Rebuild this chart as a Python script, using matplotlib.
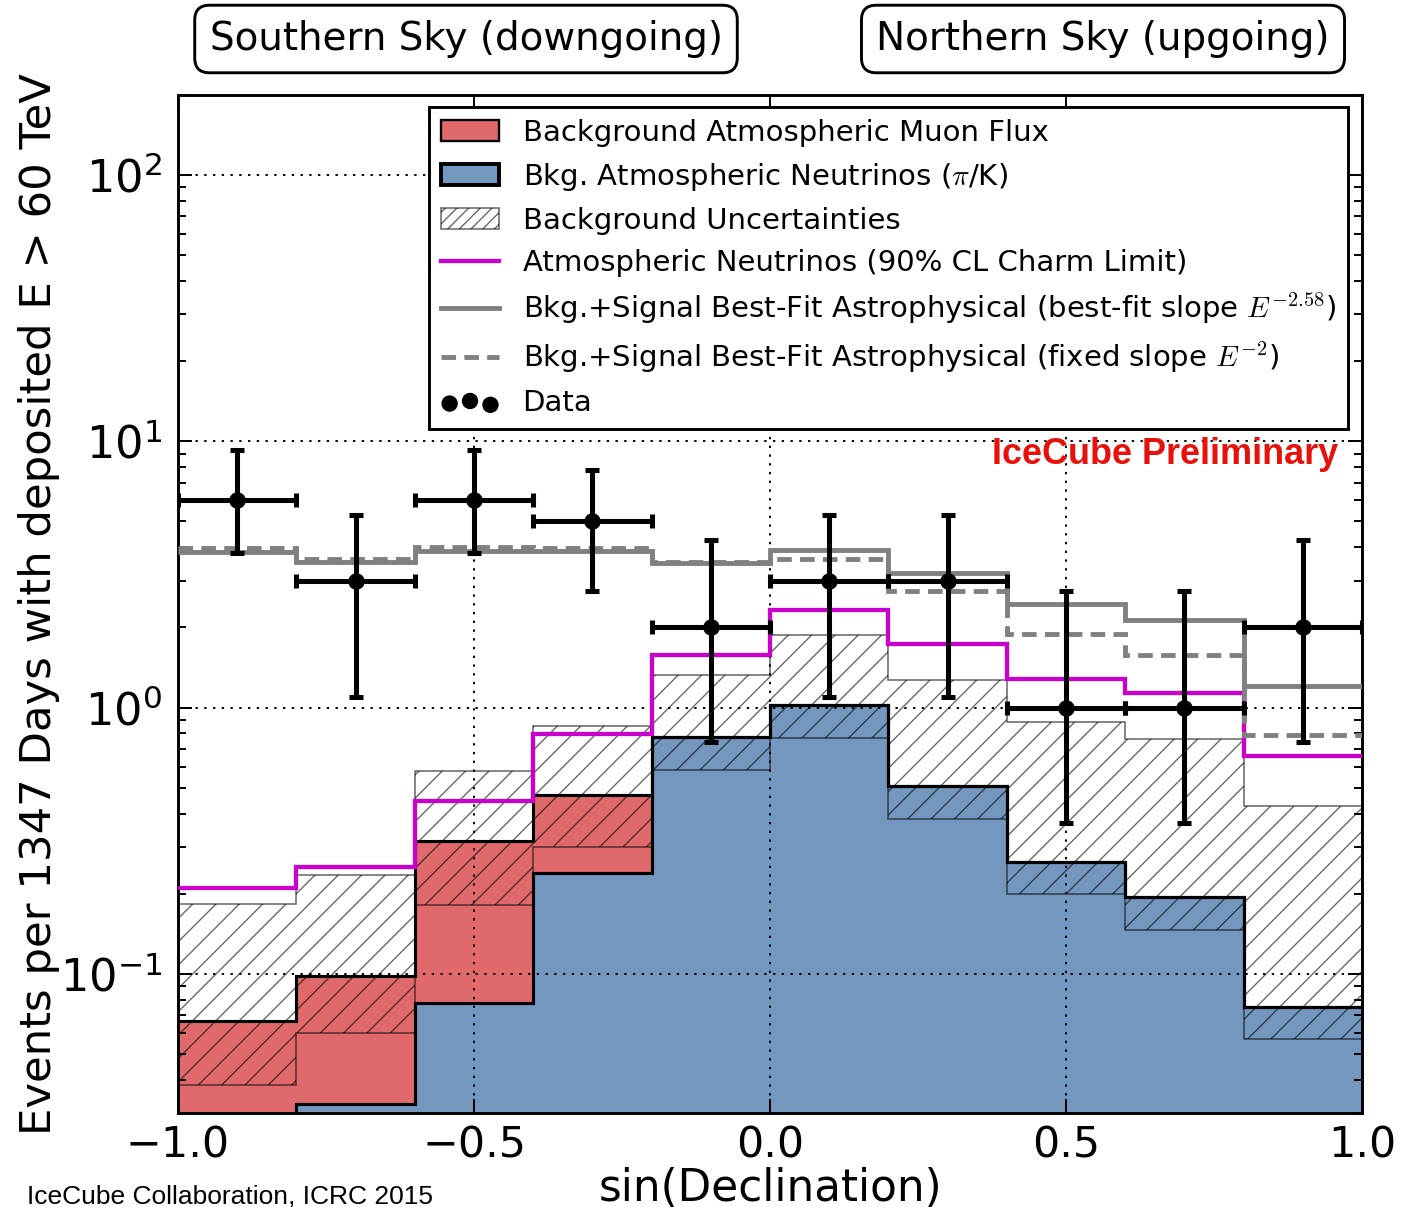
import numpy as np
import matplotlib
matplotlib.use('Agg')
import matplotlib.pyplot as plt
from matplotlib.patches import Patch
from matplotlib.lines import Line2D

# sin(declination) binning
edges = np.linspace(-1.0, 1.0, 11)

# expected events per bin (1347 days, deposited E > 60 TeV)
atm_nu = [0.020, 0.0323, 0.0775, 0.240, 0.774, 1.02, 0.508, 0.264, 0.194, 0.0752]
atm_mu = [0.0464, 0.0661, 0.2375, 0.231, 0.0, 0.0, 0.0, 0.0, 0.0, 0.0]
bkg_lo = [0.0383, 0.060, 0.181, 0.299, 0.581, 0.768, 0.383, 0.200, 0.1465, 0.0568]
bkg_hi = [0.183, 0.236, 0.578, 0.851, 1.33, 1.87, 1.27, 0.886, 0.764, 0.428]
charm_limit = [0.210, 0.251, 0.446, 0.793, 1.57, 2.33, 1.73, 1.28, 1.13, 0.659]
fit_bestslope = [3.84, 3.52, 3.87, 3.87, 3.50, 3.92, 3.21, 2.44, 2.13, 1.21]
fit_e2 = [3.96, 3.62, 4.00, 3.96, 3.52, 3.62, 2.74, 1.89, 1.57, 0.79]

# observed events and Feldman-Cousins 68% intervals
n_obs = [6, 3, 6, 5, 2, 3, 3, 1, 1, 2]
fc_lo = [3.82, 1.10, 3.82, 2.75, 0.74, 1.10, 1.10, 0.37, 0.37, 0.74]
fc_hi = [9.28, 5.30, 9.28, 7.81, 4.25, 5.30, 5.30, 2.75, 2.75, 4.25]

RED = '#e0696b'
BLUE = '#7397bf'
MAGENTA = '#cc00cc'
GRAY = '#808080'

plt.rcParams['mathtext.fontset'] = 'cm'
plt.rcParams['hatch.linewidth'] = 0.7

fig = plt.figure(figsize=(1404 / 140, 1207 / 140), dpi=140)
ax = fig.add_axes([178 / 1404, 1 - 1113 / 1207, (1362 - 178) / 1404, (1113 - 95) / 1207])
ax.set_yscale('log')

total = np.array(atm_nu) + np.array(atm_mu)
centers = 0.5 * (edges[1:] + edges[:-1])

# stacked backgrounds
ax.stairs(atm_nu, edges, baseline=1e-4, fill=True, color=BLUE, zorder=1)
ax.stairs(total, edges, baseline=atm_nu, fill=True, color=RED, zorder=1)
ax.stairs(bkg_hi, edges, baseline=bkg_lo, fill=True, facecolor='none',
          edgecolor=(0, 0, 0, 0.6), hatch='//', lw=0.8, zorder=1.5)
ax.stairs(atm_nu, edges, baseline=None, color='k', lw=1.6, zorder=2)
ax.stairs(total, edges, baseline=None, color='k', lw=1.6, zorder=2)

ax.stairs(charm_limit, edges, baseline=None, color=MAGENTA, lw=2.2, zorder=3)
ax.stairs(fit_bestslope, edges, baseline=None, color=GRAY, lw=2.5, zorder=3)
ax.stairs(fit_e2, edges, baseline=None, color=GRAY, lw=2.5,
          linestyle=(0, (3, 1.7)), zorder=3)

n = np.array(n_obs, dtype=float)
yerr = [n - np.array(fc_lo), np.array(fc_hi) - n]
ax.errorbar(centers, n, xerr=0.1, yerr=yerr, fmt='o', color='k', ms=7.5,
            elinewidth=2.6, capsize=3.8, capthick=2.6, zorder=4)

ax.set_xlim(-1, 1)
ax.set_ylim(0.03, 200)
ax.set_xticks([-1.0, -0.5, 0.0, 0.5, 1.0])
ax.grid(True, which='major', color='k', lw=1.0, linestyle=(0, (1.2, 3.3)))
ax.set_axisbelow(False)
ax.tick_params(which='both', direction='in', top=True, right=True)
ax.tick_params(which='major', length=7, width=1.0, labelsize=22)
ax.tick_params(axis='y', which='major', labelsize=23)
ax.tick_params(which='minor', length=4, width=1.0)
ax.tick_params(axis='x', pad=6)
ax.tick_params(axis='y', pad=8)
for s in ax.spines.values():
    s.set_linewidth(1.5)

ax.set_xlabel('sin(Declination)', fontsize=22.5, labelpad=0)
ax.set_ylabel('Events per 1347 Days with deposited E > 60 TeV', fontsize=22.3,
              labelpad=0)

data_proxy = ax.scatter([], [], s=55, c='k')
handles = [
    Patch(facecolor=RED, edgecolor='k', lw=1.2),
    Patch(facecolor=BLUE, edgecolor='k', lw=2.0),
    Patch(facecolor='white', edgecolor=(0, 0, 0, 0.6), hatch='////', lw=0.8),
    Line2D([], [], color=MAGENTA, lw=2.2),
    Line2D([], [], color=GRAY, lw=2.5),
    Line2D([], [], color=GRAY, lw=2.5, linestyle=(0, (3, 1.7))),
    data_proxy,
]
labels = [
    'Background Atmospheric Muon Flux',
    r'Bkg. Atmospheric Neutrinos ($\pi$/K)',
    'Background Uncertainties',
    'Atmospheric Neutrinos (90% CL Charm Limit)',
    r'Bkg.+Signal Best-Fit Astrophysical (best-fit slope $E^{-2.58}$)',
    r'Bkg.+Signal Best-Fit Astrophysical (fixed slope $E^{-2}$)',
    'Data',
]
leg = ax.legend(handles, labels, loc='upper right', bbox_to_anchor=(0.988, 0.988),
                borderaxespad=0, fontsize=15, fancybox=False, framealpha=1,
                edgecolor='k', labelspacing=0.48, handlelength=2.0,
                handletextpad=0.8, scatterpoints=3)
leg.get_frame().set_linewidth(1.5)
leg.set_zorder(10)

ax.text(0.9797, 0.6473, 'IceCube Preliminary', transform=ax.transAxes,
        ha='right', va='center', color='#e8100a', fontsize=18.5,
        fontweight='bold', family='Liberation Sans', zorder=10)

box = dict(boxstyle='round,pad=0.38', facecolor='white', edgecolor='k', lw=1.5)
fig.text(466 / 1404, 1 - 39 / 1207, 'Southern Sky (downgoing)', ha='center',
         va='center', fontsize=20, bbox=box)
fig.text(1103 / 1404, 1 - 39 / 1207, 'Northern Sky (upgoing)', ha='center',
         va='center', fontsize=20, bbox=box)

fig.text(27 / 1404, 0.0025, 'IceCube Collaboration, ICRC 2015', ha='left',
         va='baseline', fontsize=13.6, family='Liberation Sans')

fig.savefig('out.png', dpi=140)
